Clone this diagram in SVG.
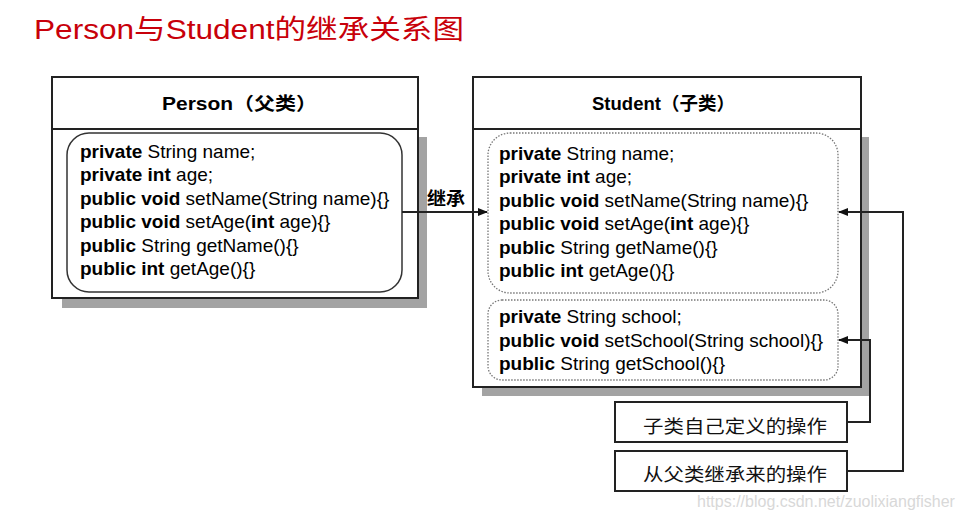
<svg xmlns="http://www.w3.org/2000/svg" width="964" height="519" viewBox="0 0 964 519">
<style>
text{font-family:"Liberation Sans","Noto Sans CJK SC",sans-serif;fill:#000}
.title{font-size:27px;fill:#c8000a}
.hdr{font-size:18px;font-weight:bold}
.code{font-size:19px}
.b{font-weight:bold}
.lbl{font-size:18px;fill:#111}
.box{fill:#fff;stroke:#222;stroke-width:2}
.shadow{fill:#a3a3a3}
.inner{fill:#fff;stroke:#333;stroke-width:1.5}
.dotted{fill:#fff;stroke:#777;stroke-width:1.3;stroke-dasharray:1.5 1.5}
.conn{fill:none;stroke:#222;stroke-width:2}
.wm{font-size:16px;fill:#d8d8d8}
</style>
<defs>
<marker id="arr" markerWidth="10" markerHeight="8" refX="9" refY="4" orient="auto" markerUnits="userSpaceOnUse">
<path d="M0,0 L10,4 L0,8 Z" fill="#111"/>
</marker>
</defs>
<rect width="964" height="519" fill="#fff"/>
<text class="title" x="34" y="39" textLength="430" lengthAdjust="spacingAndGlyphs">Person与Student的继承关系图</text>

<g id="person">
<rect class="shadow" x="62" y="137" width="365" height="171"/>
<rect class="box" x="52" y="77" width="366" height="221"/>
<line x1="52" y1="129" x2="418" y2="129" stroke="#222" stroke-width="2"/>
<text class="hdr" x="162" y="110" textLength="155" lengthAdjust="spacingAndGlyphs">Person（父类）</text>
<rect class="inner" x="67" y="133" width="335" height="159" rx="22" ry="22"/>
<text class="code" x="80" y="158"><tspan class="b">private</tspan> String name;</text>
<text class="code" x="80" y="181"><tspan class="b">private int</tspan> age;</text>
<text class="code" x="80" y="205"><tspan class="b">public void</tspan> setName(String name){}</text>
<text class="code" x="80" y="228"><tspan class="b">public void</tspan> setAge(<tspan class="b">int</tspan> age){}</text>
<text class="code" x="80" y="252"><tspan class="b">public</tspan> String getName(){}</text>
<text class="code" x="80" y="275"><tspan class="b">public int</tspan> getAge(){}</text>
</g>

<g id="student">
<rect class="shadow" x="482" y="137" width="387" height="259"/>
<rect class="box" x="473" y="77" width="388" height="310"/>
<line x1="473" y1="129" x2="861" y2="129" stroke="#222" stroke-width="2"/>
<text class="hdr" x="592" y="110" textLength="143" lengthAdjust="spacingAndGlyphs">Student（子类）</text>
<rect class="dotted" x="488" y="133" width="350" height="160" rx="22" ry="22"/>
<text class="code" x="499" y="160"><tspan class="b">private</tspan> String name;</text>
<text class="code" x="499" y="183"><tspan class="b">private int</tspan> age;</text>
<text class="code" x="499" y="207"><tspan class="b">public void</tspan> setName(String name){}</text>
<text class="code" x="499" y="230"><tspan class="b">public void</tspan> setAge(<tspan class="b">int</tspan> age){}</text>
<text class="code" x="499" y="254"><tspan class="b">public</tspan> String getName(){}</text>
<text class="code" x="499" y="277"><tspan class="b">public int</tspan> getAge(){}</text>
<rect class="dotted" x="488" y="300" width="350" height="80" rx="14" ry="14"/>
<text class="code" x="499" y="323"><tspan class="b">private</tspan> String school;</text>
<text class="code" x="499" y="347"><tspan class="b">public void</tspan> setSchool(String school){}</text>
<text class="code" x="499" y="370"><tspan class="b">public</tspan> String getSchool(){}</text>
</g>

<g id="own-ops">
<rect class="box" x="615" y="402" width="232" height="40"/>
<text class="lbl" x="643" y="433" textLength="184" lengthAdjust="spacingAndGlyphs">子类自己定义的操作</text>
</g>

<g id="inherited-ops">
<rect class="box" x="615" y="451" width="232" height="40"/>
<text class="lbl" x="643" y="481" textLength="184" lengthAdjust="spacingAndGlyphs">从父类继承来的操作</text>
</g>

<g id="connectors">
<line class="conn" x1="402" y1="212" x2="487" y2="212" marker-end="url(#arr)"/>
<text class="hdr" x="427" y="205" textLength="38" lengthAdjust="spacingAndGlyphs">继承</text>
<polyline class="conn" points="847,422 870,422 870,340 839,340" marker-end="url(#arr)"/>
<polyline class="conn" points="847,471 903,471 903,212 839,212" marker-end="url(#arr)"/>
</g>

<text class="wm" x="697" y="507">https://blog.csdn.net/zuolixiangfisher</text>
</svg>
